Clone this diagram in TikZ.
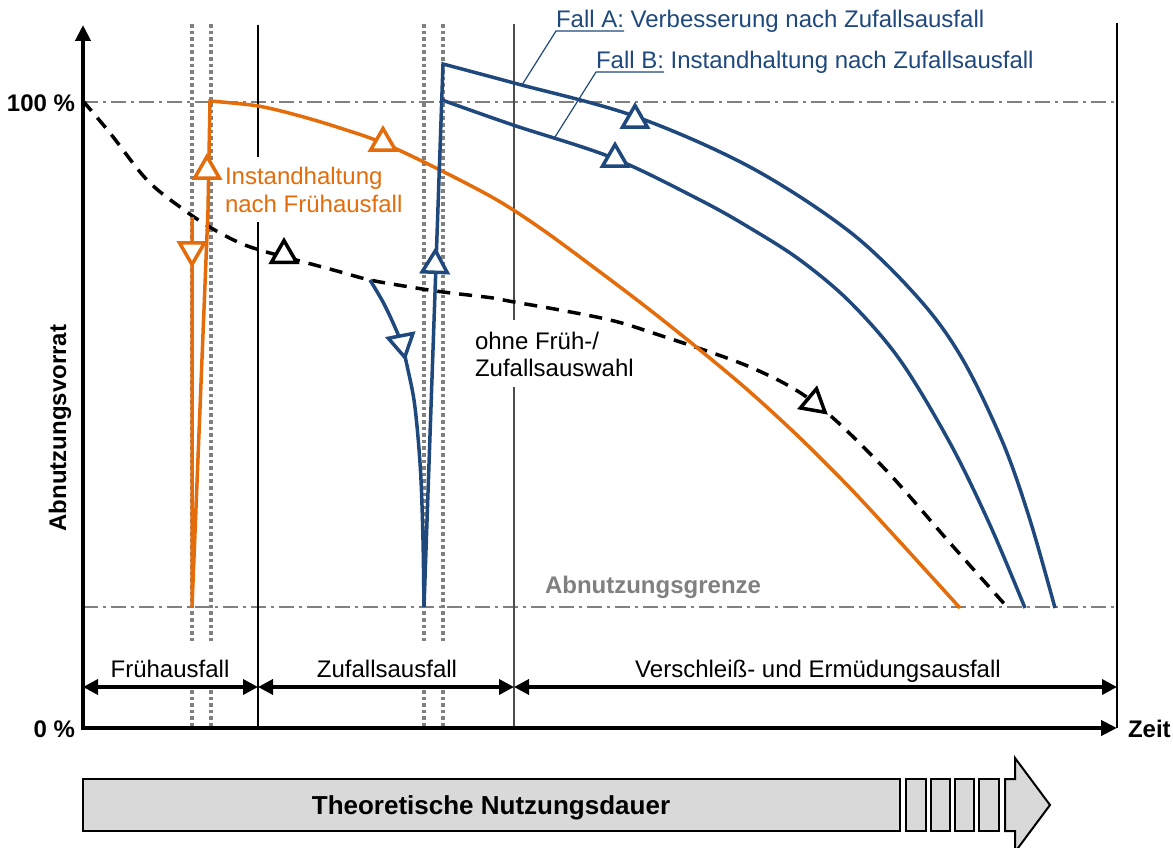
\documentclass[tikz,border=0pt]{standalone}
\usepackage{fontspec}
\setmainfont{Liberation Sans}
\usetikzlibrary{arrows.meta,shapes.geometric}
\definecolor{wearorange}{RGB}{228,108,10}
\definecolor{wearblue}{RGB}{31,73,125}
\definecolor{gridgray}{RGB}{128,128,128}
\definecolor{barfill}{RGB}{217,217,217}
\begin{document}
\begin{tikzpicture}[x=1pt,y=-1pt,
  every node/.style={inner sep=0pt, outer sep=0pt, font=\fontsize{24}{27}\selectfont},
  boldlabel/.style={font=\fontsize{24}{27}\selectfont\bfseries},
  axisline/.style={line width=4pt, {Triangle[length=16pt,width=15pt]}-{Triangle[length=16pt,width=15pt]}},
  spanarrow/.style={line width=3.5pt, {Triangle[length=15pt,width=15pt]}-{Triangle[length=15pt,width=15pt]}},
  dotline/.style={gridgray, line width=3.8pt, dash pattern=on 3.6pt off 3pt},
  limitline/.style={gridgray, line width=2.8pt, dash pattern=on 15pt off 5pt on 3pt off 5pt},
  phaseline/.style={line width=1.3pt},
  curve/.style={line width=3.5pt},
  ideal/.style={curve, black, dash pattern=on 13pt off 9pt},
  trimark/.style={regular polygon, regular polygon sides=3, fill=white, line width=3.5pt, minimum size=29pt, inner sep=0pt},
  leader/.style={wearblue, line width=1.2pt},
  barbox/.style={draw, line width=2pt, fill=barfill},
]
\useasboundingbox (0,0) rectangle (1173,848);

% --- reference levels: 100 % and wear limit
\draw[limitline] (83,102) -- (1117,102);
\draw[limitline] (83,607) -- (1117,607);

% --- dotted markers of the failure instants
\foreach \xx in {192,211,424,443} {
  \draw[dotline] (\xx,24) -- (\xx,643);
  \draw[dotline] (\xx,690) -- (\xx,728);
}

% --- phase borders
\draw[phaseline] (258,25) -- (258,157);
\draw[phaseline] (258,222) -- (258,728);
\draw[phaseline, black!70] (514,24) -- (514,320);
\draw[phaseline, black!70] (514,387) -- (514,728);
\draw[phaseline] (1117,23) -- (1117,728);

% --- axes
\draw[axisline] (83,25) -- (83,728) -- (1117,728);

% --- phase spans
\draw[spanarrow] (83,687) -- (258,687);
\draw[spanarrow] (258,687) -- (514,687);
\draw[spanarrow] (514,687) -- (1117,687);

% --- course without early or random failure
\draw[ideal] plot[smooth, tension=0.55] coordinates {(83,101) (110,133) (148,181) (187,212) (213,229) (240,243) (263,251) (300,261) (337,271) (370,280) (410,287) (443,292) (493,298) (514,302) (560,310) (610,320) (650,332) (750,367) (815,403) (883,467) (950,543) (1008,608)};

% --- early failure and maintenance
\draw[curve, wearorange] (192,217) -- (192,607) -- (208,210) -- plot[smooth, tension=0.55] coordinates {(210,101) (258,106) (300,116) (340,128) (383,143) (440,170) (497,200) (543,230) (600,272) (650,310) (700,350) (750,392) (800,438) (850,488) (900,542) (960,608)};

% --- random failure, case A (improvement)
\draw[curve, wearblue] plot[smooth, tension=0.55] coordinates {(370,280) (383,302) (394,325) (402,345) (408,370) (414,400) (418,437) (421,480) (423,540) (424,607)} -- (443,64) -- plot[smooth, tension=0.55] coordinates {(443,64) (514,83) (634,116) (750,167) (850,232) (920,300) (963,360) (1003,443) (1030,520) (1055,608)};

% --- random failure, case B (maintenance)
\draw[curve, wearblue] plot[smooth, tension=0.55] coordinates {(442,100) (513,125) (613,158) (700,200) (750,228) (800,260) (850,302) (900,360) (950,443) (990,525) (1025,608)};

% --- direction markers
\node[trimark, draw=wearorange, rotate=180] (mo1) at (192,250) {};
\node[trimark, draw=wearorange] (mo2) at (207,171) {};
\node[trimark, draw=wearorange] (mo3) at (383,143) {};
\node[trimark, draw=black] (mk1) at (284,255) {};
\node[trimark, draw=black, rotate=-10] (mk2) at (814,403) {};
\node[trimark, draw=wearblue, rotate=-169] (mb1) at (402,343) {};
\node[trimark, draw=wearblue, rotate=-2] (mb2) at (435,265) {};
\node[trimark, draw=wearblue] (mb3) at (635,120) {};
\node[trimark, draw=wearblue] (mb4) at (615,159) {};

% --- axis labels
\node[boldlabel, anchor=base east] (full) at (75,112) {100 \%};
\node[boldlabel, anchor=base east] (empty) at (75,737) {0 \%};
\node[boldlabel, anchor=base west] (time) at (1128,737) {Zeit};
\node[boldlabel, anchor=base, rotate=90] (stock) at (66,428) {Abnutzungsvorrat};
\node[boldlabel, anchor=base, text=gridgray] (limit) at (653,593) {Abnutzungsgrenze};

% --- phase labels
\node[anchor=base] (early) at (170,677) {Frühausfall};
\node[anchor=base] (random) at (387,677) {Zufallsausfall};
\node[anchor=base] (wear) at (818,677) {Verschleiß- und Ermüdungsausfall};

% --- curve labels
\node[anchor=base west, text=wearorange] (maintA) at (225,185) {Instandhaltung};
\node[anchor=base west, text=wearorange] (maintB) at (225,212) {nach Frühausfall};
\node[anchor=base west] (idealA) at (475,349) {ohne Früh-/};
\node[anchor=base west] (idealB) at (475,376) {Zufallsauswahl};
\node[anchor=base west, text=wearblue] (caseA) at (556,28) {Fall A: Verbesserung nach Zufallsausfall};
\node[anchor=base west, text=wearblue] (caseB) at (596,69) {Fall B: Instandhaltung nach Zufallsausfall};
\coordinate (ulA1) at (556,31);
\coordinate (ulA2) at (624,31);
\coordinate (onA) at (522,85);
\coordinate (ulB1) at (596,72);
\coordinate (ulB2) at (664,72);
\coordinate (onB) at (555,137);
\draw[leader] (ulA2) -- (ulA1) -- (onA);
\draw[leader] (ulB2) -- (ulB1) -- (onB);

% --- service life bar
\draw[barbox] (83,779) rectangle (900,831);
\node[font=\fontsize{26}{30}\selectfont\bfseries, anchor=base] (life) at (491,814) {Theoretische Nutzungsdauer};
\foreach \xa/\xb in {906/926, 931/950, 955/974, 979/999} {
  \draw[barbox] (\xa,779) rectangle (\xb,831);
}
\draw[barbox, line join=miter] (1005,779) -- (1015,779) -- (1015,758) -- (1050,805) -- (1015,852) -- (1015,831) -- (1005,831) -- cycle;
\end{tikzpicture}
\end{document}
